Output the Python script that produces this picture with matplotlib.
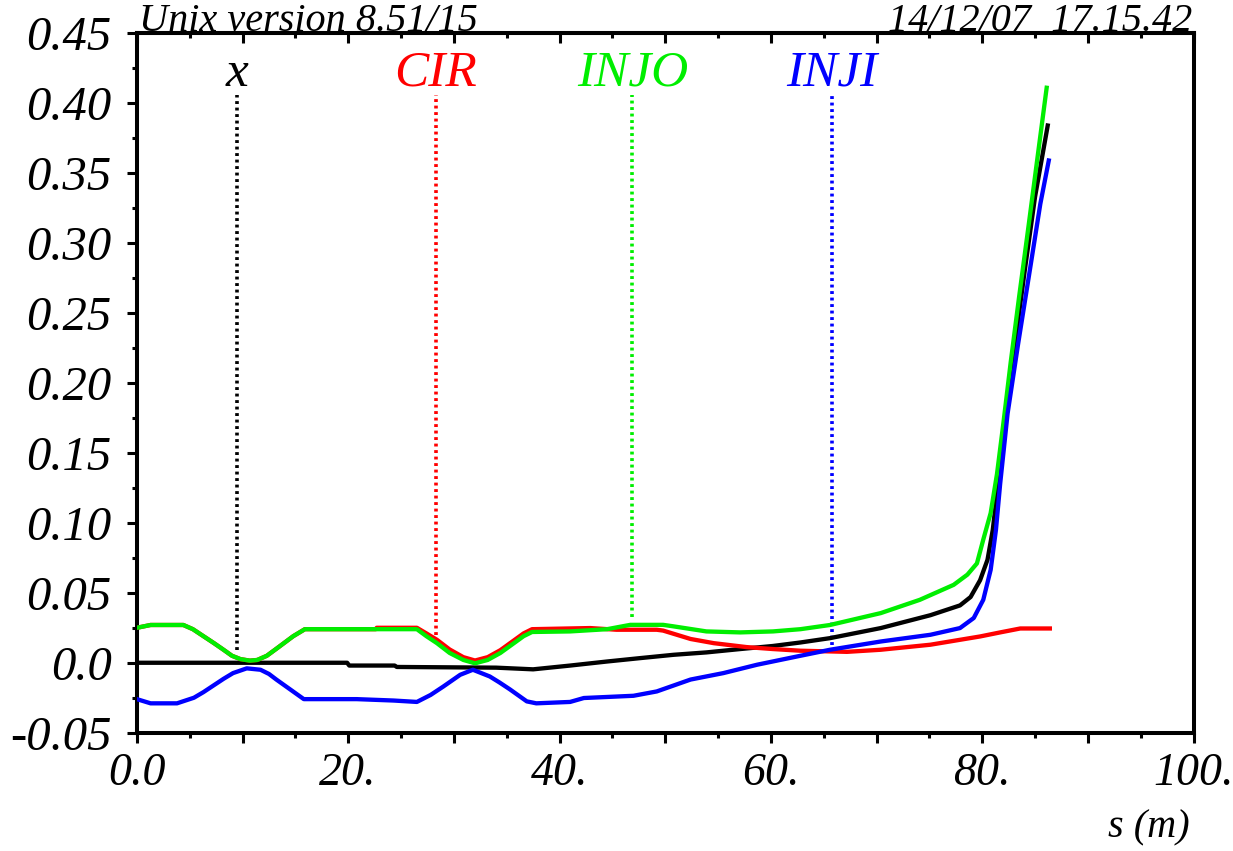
import matplotlib
matplotlib.use('Agg')
import matplotlib.pyplot as plt
from matplotlib.ticker import MultipleLocator

plt.rcParams['font.family'] = ['Liberation Serif', 'DejaVu Serif']
plt.rcParams['font.style'] = 'italic'

# horizontal orbit along s (m)
s_x = [0, 19.9, 20.1, 24.4, 24.6, 34, 37.5, 41, 44.5, 47.6, 50.8, 53.9, 57.1,
       60.2, 62.8, 65.6, 70.4, 75.1, 77.9, 78.9, 79.8, 80.5, 81.0, 81.4, 82.0,
       83.0, 84.0, 85.0, 86.2]
x_vals = [0, 0, -0.002, -0.002, -0.003, -0.0035, -0.0047, -0.002, 0.0009,
          0.0033, 0.0057, 0.0074, 0.0098, 0.012, 0.0145, 0.0176, 0.0248,
          0.034, 0.041, 0.047, 0.059, 0.0736, 0.095, 0.121, 0.159, 0.222,
          0.279, 0.333, 0.384]

s_cir = [0, 1.3, 4.4, 5.3, 6.3, 7.3, 8.2, 9.0, 9.8, 10.7, 11.4, 12.3, 13.2,
         14.0, 14.8, 15.9, 22.6, 22.7, 26.5, 27.4, 28.4, 29.6, 30.9, 32.0,
         33.2, 34.4, 35.5, 36.6, 37.4, 42.9, 45.4, 49.2, 49.8, 52.4, 54.6,
         57.7, 60.2, 62.8, 65.6, 67.2, 70.4, 75.1, 79.8, 81.7, 83.6, 86.4]
cir_vals = [0.025, 0.027, 0.027, 0.024, 0.019, 0.014, 0.0093, 0.005, 0.0026,
            0.0015, 0.002, 0.005, 0.010, 0.0145, 0.019, 0.024, 0.024, 0.025,
            0.025, 0.021, 0.0164, 0.0095, 0.004, 0.0016, 0.004, 0.009, 0.015,
            0.021, 0.024, 0.0248, 0.0236, 0.0236, 0.023, 0.017, 0.014, 0.0112,
            0.0098, 0.0086, 0.0081, 0.0078, 0.0093, 0.0129, 0.0188, 0.0217,
            0.0245, 0.0245]

s_injo = [0, 1.3, 4.4, 5.3, 6.3, 7.3, 8.2, 9.0, 9.8, 10.7, 11.4, 12.3, 13.2,
          14.0, 14.8, 15.9, 26.5, 27.4, 28.4, 29.6, 30.9, 32.0, 33.2, 34.4,
          35.5, 36.6, 37.4, 41, 44.5, 46.7, 49.8, 50.8, 53.9, 57.1, 60.2, 62.8,
          65.6, 70.4, 74.1, 77.3, 78.6, 79.5, 80.1, 80.8, 81.4, 82.0, 82.7,
          83.5, 84.4, 85.3, 86.1]
injo_vals = [0.025, 0.027, 0.027, 0.024, 0.019, 0.014, 0.0093, 0.005, 0.0026,
             0.0015, 0.002, 0.005, 0.010, 0.0145, 0.019, 0.024, 0.024, 0.019,
             0.014, 0.007, 0.002, -0.0004, 0.002, 0.007, 0.013, 0.019, 0.022,
             0.0224, 0.024, 0.0271, 0.0271, 0.026, 0.0224, 0.0217, 0.0224,
             0.024, 0.027, 0.0355, 0.045, 0.0557, 0.063, 0.071, 0.088, 0.107,
             0.135, 0.171, 0.215, 0.262, 0.313, 0.365, 0.411]

s_inji = [0, 1.3, 3.8, 5.4, 6.3, 7.3, 8.2, 9.1, 10.4, 11.7, 12.5, 13.2, 14.5,
          15.8, 20.8, 24.3, 26.5, 27.8, 29, 30.6, 31.8, 33.4, 34.3, 35.3, 36.9,
          37.8, 41, 42.3, 47, 49.2, 52.4, 55.5, 58.7, 62.8, 65.6, 70.4, 75.1,
          77.9, 79.2, 80.1, 80.8, 81.3, 81.7, 82.4, 83.4, 84.6, 85.5, 86.3]
inji_vals = [-0.026, -0.029, -0.029, -0.025, -0.021, -0.016, -0.0115, -0.0074,
             -0.004, -0.005, -0.008, -0.012, -0.019, -0.026, -0.026, -0.027,
             -0.028, -0.023, -0.017, -0.0086, -0.005, -0.0098, -0.014, -0.019,
             -0.0276, -0.029, -0.028, -0.0252, -0.0236, -0.0205, -0.012,
             -0.0074, -0.0014, 0.005, 0.0093, 0.0152, 0.020, 0.0248, 0.032,
             0.045, 0.0664, 0.095, 0.128, 0.178, 0.228, 0.285, 0.328, 0.359]

# marker positions (label, s, lower end of the dotted line, colour)
marker_names = ['x', 'CIR', 'INJO', 'INJI']
marker_s = [9.5, 28.3, 46.9, 65.8]
marker_low = [0.009, 0.020, 0.033, 0.013]
marker_colors = ['black', '#ff0000', '#00ee00', '#0000ff']

xtick_vals = list(range(0, 101, 10))
xtick_labels = ['0.0', '', '20.', '', '40.', '', '60.', '', '80.', '', '100.']
ytick_vals = [-0.05, 0.0, 0.05, 0.10, 0.15, 0.20, 0.25, 0.30, 0.35, 0.40, 0.45]
ytick_labels = ['-0.05', '0.0', '0.05', '0.10', '0.15', '0.20', '0.25',
                '0.30', '0.35', '0.40', '0.45']

fig = plt.figure(figsize=(12.33, 8.51), dpi=100)
ax = fig.add_axes([0.111, 0.139, 0.857, 0.822])

lw = 3.1
ax.plot(s_x, x_vals, color='black', lw=lw, zorder=3)
ax.plot(s_cir, cir_vals, color='#ff0000', lw=lw, zorder=3)
ax.plot(s_injo, injo_vals, color='#00ee00', lw=lw, zorder=3)
ax.plot(s_inji, inji_vals, color='#0000ff', lw=lw, zorder=3)

for name, s, low, c in zip(marker_names, marker_s, marker_low, marker_colors):
    ax.vlines(s, low, 0.406, colors=c, linestyles=(0, (0.8, 1.0)), lw=2.6,
              zorder=2)
    ax.text(s, 0.4125, name, color=c, fontsize=37, ha='center',
            va='baseline')

ax.set_xlim(0, 100)
ax.set_ylim(-0.05, 0.45)

ax.set_xticks(xtick_vals)
ax.set_xticklabels(xtick_labels)
ax.xaxis.set_minor_locator(MultipleLocator(5))
ax.set_yticks(ytick_vals)
ax.set_yticklabels(ytick_labels)
ax.yaxis.set_minor_locator(MultipleLocator(0.025))

ax.tick_params(axis='x', which='both', direction='out', bottom=True,
               top=False, labelsize=33, pad=7, width=2.2)
ax.tick_params(axis='x', which='major', length=7)
ax.tick_params(axis='x', which='minor', length=3.5)
ax.tick_params(axis='y', which='both', direction='out', left=True,
               right=False, labelsize=35, pad=11, width=2.2)
ax.tick_params(axis='y', which='major', length=7)
ax.tick_params(axis='y', which='minor', length=3.5)

# top axis: inward ticks, no labels
top = ax.secondary_xaxis('top')
top.set_xticks(xtick_vals)
top.xaxis.set_minor_locator(MultipleLocator(5))
top.tick_params(axis='x', which='both', direction='in', width=2.2,
                labeltop=False)
top.tick_params(axis='x', which='major', length=7)
top.tick_params(axis='x', which='minor', length=3.5)
top.spines['top'].set_linewidth(2.9)

for sp in ax.spines.values():
    sp.set_linewidth(2.9)

fig.text(0.113, 0.963, 'Unix version 8.51/15', fontsize=29, ha='left',
         va='baseline')
fig.text(0.967, 0.963, '14/12/07  17.15.42', fontsize=29, ha='right',
         va='baseline')
fig.text(0.965, 0.016, 's (m)', fontsize=29, ha='right', va='baseline')

fig.savefig('out.png', dpi=100)
